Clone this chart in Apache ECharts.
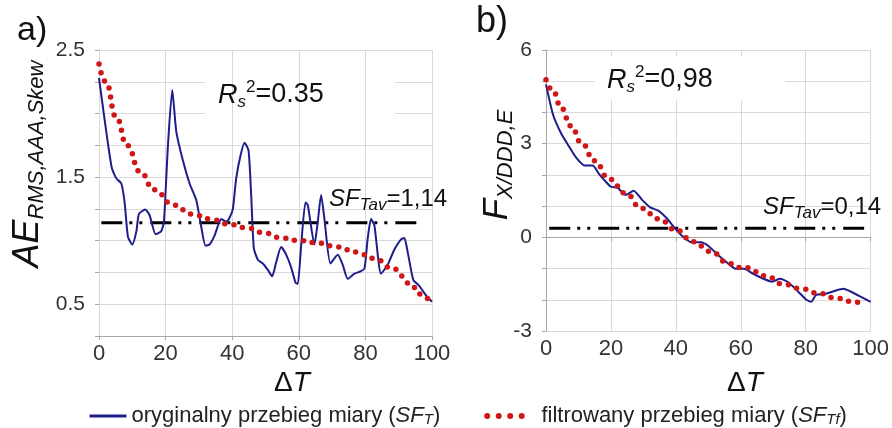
<!DOCTYPE html>
<html>
<head>
<meta charset="utf-8">
<script src="https://cdn.jsdelivr.net/npm/echarts@6/dist/echarts.min.js"></script>
<style>
  html, body { margin: 0; padding: 0; background: #fff; }
  #main { width: 892px; height: 428px; }
</style>
</head>
<body>
<div id="main"></div>
<script>
// osie
var xTicks = [0, 20, 40, 60, 80, 100];
var aYLabels = [0.5, 1.5, 2.5];
var bYLabels = [-3, 0, 3, 6];

// a) AE_RMS,AAA,Skew - przebieg oryginalny
var aOrigX = [0,3.7,5.2,6.7,7.7,8.7,10,11.2,12,13.9,15.2,17,18.7,19.5,20.7,22,23.2,25.2,27.2,29.2,30.7,32,33.2,34.7,36.7,38.2,39.2,40.2,41.2,42.5,43.7,44.9,45.7,46.5,47.7,49.2,50.7,52,53.2,54.7,56.2,57.7,59,59.7,60.7,62,62.7,64.7,65.7,66.7,67.7,69.5,71.7,73.2,74.7,76.7,78.2,79.7,80.7,81.7,82.7,84.7,86.7,88.7,90.7,91.7,92.7,94.4,96,98.2,100];
var aOrigY = [2.28,1.59,1.49,1.45,1.30,1.03,0.97,1.07,1.21,1.245,1.20,1.05,1.075,1.15,1.75,2.185,1.86,1.63,1.45,1.32,1.11,0.96,0.97,1.04,1.17,1.15,1.18,1.25,1.49,1.67,1.77,1.71,1.36,0.94,0.85,0.82,0.77,0.72,0.83,0.95,0.89,0.79,0.67,0.66,0.96,1.30,1.28,0.97,1.15,1.36,1.17,0.82,0.89,0.81,0.70,0.74,0.755,0.78,1.02,1.17,1.12,0.74,0.81,0.93,1.01,1.02,0.91,0.69,0.65,0.57,0.52];
// a) przebieg filtrowany
var aFiltX = [0,2,5.2,8.4,12.4,16.5,22.4,27.9,33.5,38.9,44.5,49.7,55,60.4,66,71.7,77.2,82.7,88.2,93.7,96.2,100];
var aFiltY = [2.39,2.25,1.97,1.75,1.54,1.40,1.28,1.21,1.17,1.13,1.10,1.06,1.02,1.0,0.98,0.95,0.91,0.86,0.78,0.66,0.58,0.50];
var aSfX = [0.7, 96.5];
var aSfLevel = 1.14;

// b) F_X/DDD,E - przebieg oryginalny
var bOrigX = [0,2.2,4.8,6.8,9.3,11.9,14.4,16.2,17.9,20,22,24.5,27,29.6,32.1,34.7,37.2,39.7,42.2,44.8,47.8,50.3,52.9,56,58.5,61,63.5,66.6,69.6,72.1,74.6,77.7,80.2,81.7,83.2,85.8,88.8,91.6,94.3,96.9,100];
var bOrigY = [4.90,3.92,3.30,2.96,2.55,2.30,2.30,2.05,1.84,1.62,1.59,1.36,1.49,1.20,0.96,0.85,0.61,0.29,0.02,-0.16,-0.16,-0.30,-0.56,-0.83,-1.01,-1.01,-1.15,-1.31,-1.42,-1.33,-1.44,-1.74,-2.0,-2.06,-1.84,-1.82,-1.72,-1.65,-1.76,-1.90,-2.07];
// b) przebieg filtrowany
var bFiltX = [0,2,4.8,7.6,11.1,14.9,19.5,24.5,29.4,34.7,40,45.3,50.6,56.3,59,61.7,64.5,68.1,73.1,78.7,84,89.3,94.6,98];
var bFiltY = [5.05,4.72,4.13,3.57,3.0,2.45,1.87,1.41,0.93,0.59,0.24,-0.14,-0.45,-0.83,-0.97,-0.97,-1.10,-1.26,-1.50,-1.65,-1.79,-1.95,-2.06,-2.16];
var bSfX = [1, 98];
var bSfLevel = 0.29;

var NAME_ORIG = 'oryginalny przebieg miary';
var NAME_FILT = 'filtrowany przebieg miary';
var BLUE = '#1d1d8c';
var RED = '#d01616';
var FF = '"Liberation Sans", Arial, sans-serif';
var SFDASH = [21, 7, 3, 7, 3, 8];

function pairs(xs, ys) {
  return xs.map(function (x, i) { return [x, ys[i]]; });
}

var dom = document.getElementById('main');
var myChart = echarts.init(dom);

function xAxisOpt(gi, z) {
  return {
    type: 'value', gridIndex: gi, min: 0, max: 100, interval: 20, z: z,
    axisLine: { lineStyle: { color: '#a6a6a6', width: 1 } },
    axisTick: { show: true, length: 4, lineStyle: { color: '#a6a6a6' } },
    splitLine: { show: true, lineStyle: { color: '#d9d9d9', width: 1 } },
    axisLabel: { color: '#333', fontSize: 22, fontFamily: FF, margin: 7,
      formatter: function (v) { return xTicks.indexOf(v) >= 0 ? String(v) : ''; } }
  };
}

function yAxisOpt(gi, min, max, interval, labels) {
  return {
    type: 'value', gridIndex: gi, min: min, max: max, interval: interval,
    axisLine: { show: true, lineStyle: { color: '#a6a6a6', width: 1 } },
    axisTick: { show: true, length: 4, lineStyle: { color: '#a6a6a6' } },
    splitLine: { show: true, lineStyle: { color: '#d9d9d9', width: 1 } },
    axisLabel: { color: '#333', fontSize: 21, fontFamily: FF, margin: 14,
      formatter: function (v) {
        var r = Math.round(v * 100) / 100;
        return labels.indexOf(r) >= 0 ? String(r) : '';
      } }
  };
}

function origSeries(gi, xs, ys) {
  return { name: NAME_ORIG, type: 'line', xAxisIndex: gi, yAxisIndex: gi, data: pairs(xs, ys),
    symbol: 'none', smooth: 0.2, z: 4,
    lineStyle: { color: BLUE, width: 2 }, itemStyle: { color: BLUE } };
}
function filtSeries(gi, xs, ys) {
  return { name: NAME_FILT, type: 'line', xAxisIndex: gi, yAxisIndex: gi, data: pairs(xs, ys),
    symbol: 'none', smooth: true, smoothMonotone: 'x', z: 5,
    lineStyle: { color: RED, width: 5.5, type: [0, 9], cap: 'round' }, itemStyle: { color: RED } };
}
function sfSeries(gi, xs, level) {
  return { name: 'SF', type: 'line', xAxisIndex: gi, yAxisIndex: gi,
    data: [[xs[0], level], [xs[1], level]], symbol: 'none', z: 3, silent: true,
    lineStyle: { color: '#000', width: 3, type: SFDASH } };
}

function txt(x, y, text, rich, extra) {
  var el = { type: 'text', x: x, y: y, z: 10,
    style: { text: text, rich: rich, fill: '#111', align: 'left', verticalAlign: 'top', font: '20px ' + FF } };
  if (extra) { for (var k in extra) el[k] = extra[k]; }
  return el;
}

// R_s^2 / SF_Tav: duzy tekst + indeks dolny i gorny
var rRich = function (size, sub, drop) {
  return {
    r: { font: 'italic ' + size + 'px ' + FF, fill: '#111', lineHeight: size + 5 },
    s: { font: 'italic ' + sub + 'px ' + FF, fill: '#111', lineHeight: drop, verticalAlign: 'bottom' },
    p: { font: sub + 'px ' + FF, fill: '#111', lineHeight: 14, verticalAlign: 'top' },
    n: { font: size + 'px ' + FF, fill: '#111', lineHeight: size + 5 }
  };
};

option = null;
option = {
  backgroundColor: '#fff',
  animation: false,
  grid: [
    { left: 99, top: 50, width: 333, height: 286 },
    { left: 546, top: 50, width: 328, height: 281 }
  ],
  xAxis: [xAxisOpt(0, 2), xAxisOpt(1, 0)],
  yAxis: [yAxisOpt(0, 0.25, 2.5, 0.25, aYLabels), yAxisOpt(1, -3, 6, 1, bYLabels)],
  legend: {
    data: [
      { name: NAME_ORIG, lineStyle: { color: BLUE, width: 3 } },
      { name: NAME_FILT, lineStyle: { color: RED, width: 6, type: [0, 11.5], cap: 'round' } }
    ],
    left: 83, top: 400, itemWidth: 37, itemHeight: 14, itemGap: 44,
    itemStyle: { opacity: 0 },
    textStyle: { color: '#222', fontSize: 22, fontFamily: FF,
      rich: {
        i: { fontStyle: 'italic', fontSize: 22, fontFamily: FF, color: '#222' },
        s: { fontStyle: 'italic', fontSize: 15, fontFamily: FF, color: '#222', verticalAlign: 'bottom', lineHeight: 12 }
      } },
    formatter: function (n) {
      return n === NAME_ORIG ? n + ' ({i|SF}{s|T})' : '  ' + n + ' ({i|SF}{s|Tf})';
    }
  },
  graphic: [
    // biale tlo pod opisami R_s^2
    { type: 'rect', z: 1, shape: { x: 205, y: 56, width: 190, height: 66 }, style: { fill: '#fff' } },
    { type: 'rect', z: 1, shape: { x: 595, y: 56, width: 190, height: 44 }, style: { fill: '#fff' } },
    txt(17, 31, 'a)', null, { style: { text: 'a)', fill: '#111', font: '34px ' + FF, verticalAlign: 'middle' } }),
    txt(476, 22, 'b)', null, { style: { text: 'b)', fill: '#111', font: '36px ' + FF, verticalAlign: 'middle' } }),
    // tytuly osi Y
    txt(28, 164, '{a|AE}{b|RMS,AAA,Skew}', {
      a: { font: 'italic 36px ' + FF, fill: '#111', lineHeight: 40 },
      b: { font: 'italic 22px ' + FF, fill: '#111', lineHeight: 22, verticalAlign: 'bottom' }
    }, { rotation: Math.PI / 2 }),
    txt(497, 165, '{a|F}{b|X/DDD,E}', {
      a: { font: 'italic 35px ' + FF, fill: '#111', lineHeight: 40 },
      b: { font: 'italic 22px ' + FF, fill: '#111', lineHeight: 22, verticalAlign: 'bottom' }
    }, { rotation: Math.PI / 2 }),
    // tytuly osi X
    txt(292, 383, '{d|\u0394}{t|T}', {
      d: { font: '28px ' + FF, fill: '#111' }, t: { font: 'italic 28px ' + FF, fill: '#111' }
    }),
    txt(745, 383, '{d|\u0394}{t|T}', {
      d: { font: '28px ' + FF, fill: '#111' }, t: { font: 'italic 28px ' + FF, fill: '#111' }
    }),
    // opisy
    txt(218, 79, '{r|R}{s|s}{p|2}{n|=0.35}', rRich(27, 17, 12)),
    txt(607, 64, '{r|R}{s|s}{p|2}{n|=0,98}', rRich(27, 17, 12)),
    txt(329, 185, '{r|SF}{s|Tav}{n|=1,14}', rRich(24, 17, 8)),
    txt(763, 193, '{r|SF}{s|Tav}{n|=0,14}', rRich(24, 17, 8))
  ],
  series: [
    origSeries(0, aOrigX, aOrigY),
    filtSeries(0, aFiltX, aFiltY),
    sfSeries(0, aSfX, aSfLevel),
    origSeries(1, bOrigX, bOrigY),
    filtSeries(1, bFiltX, bFiltY),
    sfSeries(1, bSfX, bSfLevel)
  ]
};
// centrowanie tytulow osi
option.graphic.forEach(function (g) {
  if (g.rotation || (g.style && g.style.text && g.style.text.indexOf('\u0394') >= 0)) {
    g.style.align = 'center';
    g.style.verticalAlign = 'middle';
  }
});
if (option && typeof option === "object") {
  myChart.setOption(option, true);
}
</script>
</body>
</html>
